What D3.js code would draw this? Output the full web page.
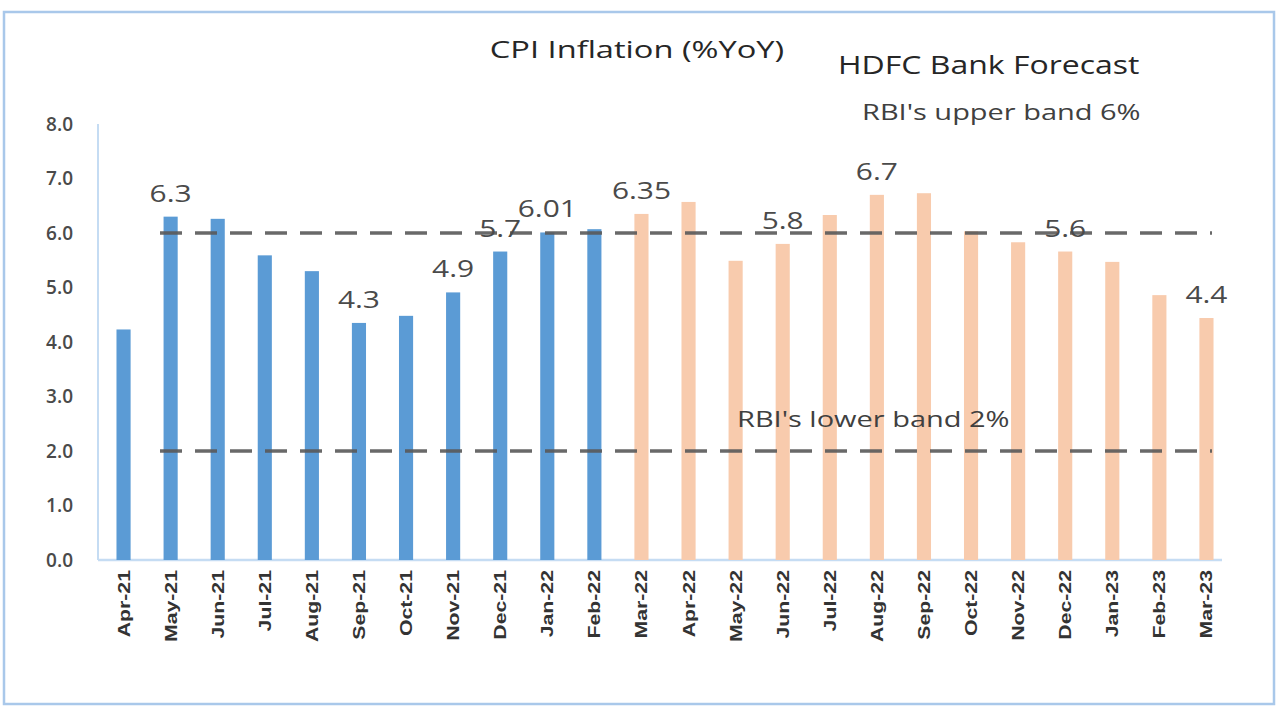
<!DOCTYPE html>
<html><head><meta charset="utf-8">
<script src="https://cdn.jsdelivr.net/npm/d3@7"></script>
<style>body{margin:0;background:#fff;}svg{display:block;}</style>
</head><body>
<svg id="c" width="1280" height="720"></svg>
<script>
const categories = ["Apr-21","May-21","Jun-21","Jul-21","Aug-21","Sep-21","Oct-21","Nov-21","Dec-21","Jan-22","Feb-22","Mar-22","Apr-22","May-22","Jun-22","Jul-22","Aug-22","Sep-22","Oct-22","Nov-22","Dec-22","Jan-23","Feb-23","Mar-23"];
const values = [4.23,6.30,6.26,5.59,5.30,4.35,4.48,4.91,5.66,6.01,6.07,6.35,6.57,5.49,5.80,6.33,6.70,6.73,6.03,5.83,5.66,5.47,4.86,4.44];
const actualCount = 11; // Apr-21 .. Feb-22 actual, rest forecast
const dataLabels = ["","6.3","","","","4.3","","4.9","5.7","6.01","","6.35","","","5.8","","6.7","","","","5.6","","","4.4"];
const yTicks = [0,1,2,3,4,5,6,7,8];
const bands = [{v:6, text:"RBI's upper band 6%"},{v:2, text:"RBI's lower band 2%"}];

const svg = d3.select("#c");
const x = d3.scaleBand().domain(categories).range([100, 1230]).paddingInner(0.7).paddingOuter(0.35);
const y = d3.scaleLinear().domain([0, 8]).range([560, 124]);
const tf = "'Open Sans', sans-serif";

// outer frame
svg.append("rect").attr("x",4).attr("y",12).attr("width",1270).attr("height",692)
  .attr("fill","none").attr("stroke","#a9c8ea").attr("stroke-width",2.5);

// axes lines
svg.append("line").attr("x1",98).attr("x2",98).attr("y1",y(8)).attr("y2",y(0))
  .attr("stroke","#c5dcf3").attr("stroke-width",2);
svg.append("line").attr("x1",98).attr("x2",1222).attr("y1",y(0)).attr("y2",y(0))
  .attr("stroke","#c5dcf3").attr("stroke-width",2.5);

// y tick labels
const yAxis = d3.axisLeft(y).tickValues(yTicks).tickFormat(d3.format(".1f")).tickSize(0).tickPadding(0);
const gy = svg.append("g").attr("transform","translate(73,0)").call(yAxis);
gy.select(".domain").remove();
gy.selectAll("text").attr("font-family",tf).attr("font-size",19)
  .attr("font-weight",600).attr("fill","#4a4a4a");

// bars
svg.append("g").selectAll("rect").data(values).join("rect")
  .attr("x",(d,i)=>x(categories[i]))
  .attr("width",x.bandwidth())
  .attr("y",d=>y(d))
  .attr("height",d=>y(0)-y(d))
  .attr("fill",(d,i)=> i<actualCount ? "#5b9bd5" : "#f8cbad");

// dashed band lines
svg.append("g").selectAll("line").data(bands).join("line")
  .attr("x1",160).attr("x2",1212)
  .attr("y1",d=>y(d.v)).attr("y2",d=>y(d.v))
  .attr("stroke","#595959").attr("stroke-width",3.5).attr("stroke-dasharray","22,13").attr("opacity",0.9);

// x labels
const xAxis = d3.axisBottom(x).tickSize(0).tickPadding(0);
const gx = svg.append("g").attr("transform","translate(0,570)").call(xAxis);
gx.select(".domain").remove();
gx.selectAll("text")
  .attr("font-family","'Liberation Sans', Arial, sans-serif").attr("font-size",17).attr("font-weight",700)
  .attr("fill","#333333")
  .attr("text-anchor","end").attr("dy","0.35em").attr("dx",0)
  .attr("transform","rotate(-90) scale(1.25,1)");

// data labels (horizontally stretched like the reference)
svg.append("g").selectAll("text").data(values).join("text")
  .attr("transform",(d,i)=>`translate(${x(categories[i])+x.bandwidth()/2},${y(d)-15}) scale(1.3,1)`)
  .attr("text-anchor","middle")
  .attr("font-family",tf).attr("font-size",23)
  .attr("fill","#4a4a4a")
  .text((d,i)=>dataLabels[i]);

// titles
function stretched(txt, px, py, size, sx, anchor, fill){
  svg.append("text").attr("transform",`translate(${px},${py}) scale(${sx},1)`)
    .attr("text-anchor",anchor).attr("font-family",tf).attr("font-size",size)
    .attr("fill",fill).text(txt);
}
stretched("CPI Inflation (%YoY)", 637, 58, 24, 1.36, "middle", "#262626");
stretched("HDFC Bank Forecast", 838, 74, 25, 1.28, "start", "#262626");
stretched(bands[0].text, 862, 120, 21, 1.38, "start", "#404040");
stretched(bands[1].text, 737, 427, 21, 1.38, "start", "#404040");
</script>
</body></html>
